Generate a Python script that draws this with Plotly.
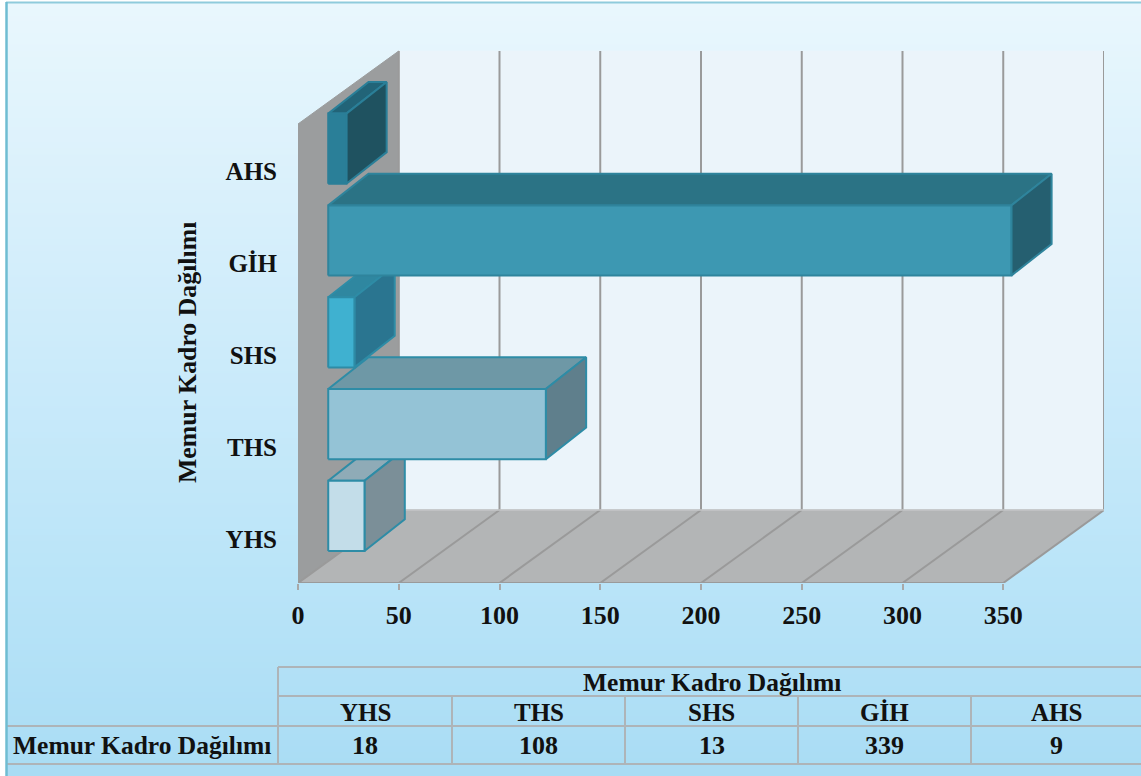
import plotly.graph_objects as go

W, H = 1141, 776

# --- data ---
categories = ["YHS", "THS", "SHS", "GİH", "AHS"]
values = [18, 108, 13, 339, 9]
value_ticks = [0, 50, 100, 150, 200, 250, 300, 350]
series_name = "Memur Kadro Dağılımı"

# --- face colours per bar ---
front_colors = ["#c3dde9", "#94c3d6", "#3fb1d0", "#3d98b2", "#2a7f98"]
top_colors = ["#8fabb7", "#6e98a6", "#2f87a0", "#2b7385", "#226478"]
side_colors = ["#7b8f98", "#5f7f8c", "#2a7590", "#255f70", "#1f5260"]
edge_colors = ["#2e8ca6", "#2e8ca6", "#2e8ca6", "#2f849c", "#2a7f98"]
grid_color = "#9a9a9a"
font_family = "Liberation Serif"
text_color = "#111111"

# --- oblique projection, expressed in axis units ---
DX, DY = 50, 0.795       # shift of the full chart depth on each axis
Y_TOP = 5.0              # height of the walls in category units
D0, D1 = 0.3, 0.7        # bar depth extent
B0, B1 = 0.11, 0.875     # bar extent within a category
BACK_LIFT = 0.027        # extra rise of the rear bar edges


def proj(v, c, d):
    return v + d * DX, c + d * DY


def rear(v, c):
    return proj(v, c + BACK_LIFT, D1)


def poly(points, fill, line=None, width=1):
    xs, ys = zip(*(points + [points[0]]))
    return go.Scatter(
        x=xs, y=ys, mode="lines", fill="toself", fillcolor=fill,
        line=dict(color=line or fill, width=width), xaxis="x2", yaxis="y2",
        showlegend=False, hoverinfo="skip",
    )


def seg(p, q, color=grid_color, width=2):
    return go.Scatter(
        x=[p[0], q[0]], y=[p[1], q[1]], mode="lines",
        line=dict(color=color, width=width), xaxis="x2", yaxis="y2",
        showlegend=False, hoverinfo="skip", cliponaxis=False,
    )


fig = go.Figure()

# page gradient
fig.add_trace(go.Heatmap(
    x=[0, 1], y=[0, 0.25, 0.5, 0.75, 1],
    z=[[0, 0], [0.25, 0.25], [0.5, 0.5], [0.75, 0.75], [1, 1]],
    zmin=0, zmax=1, zsmooth="best", showscale=False, hoverinfo="skip",
    colorscale=[[0, "#a9dcf4"], [0.25, "#b9e4f8"], [0.5, "#c9eafa"],
                [0.75, "#d9f0fb"], [1, "#e9f7fd"]],
    xaxis="x", yaxis="y",
))

vmax = value_ticks[-1]
# walls and floor
fig.add_trace(poly([proj(0, 0, 1), proj(vmax, 0, 1), proj(vmax, Y_TOP, 1), proj(0, Y_TOP, 1)], "#ebf4fa"))
fig.add_trace(poly([proj(0, 0, 0), proj(0, 0, 1), proj(0, Y_TOP, 1), proj(0, Y_TOP, 0)], "#9b9d9e"))
fig.add_trace(poly([proj(0, 0, 0), proj(vmax, 0, 0), proj(vmax, 0, 1), proj(0, 0, 1)], "#b3b5b6"))

# gridlines on back wall and floor
for v in value_ticks:
    fig.add_trace(seg(proj(v, 0, 0), proj(v, 0, 1), grid_color, 2))
    fig.add_trace(seg(proj(v, 0, 1), proj(v, Y_TOP, 1), grid_color, 2))
fig.add_trace(seg(proj(0, 0, 1), proj(vmax, 0, 1), "#c4c6c7", 1.5))
fig.add_trace(seg(proj(0, 0, 0), proj(vmax, 0, 0), grid_color, 2))

# category separators left of the wall
long_tick, short_tick = -64.5, -37.7
for k in range(len(categories) + 1):
    start = long_tick if k in (0, len(categories)) else short_tick
    fig.add_trace(seg((start, k), (0, k), "#a8a8a8", 1.5))

# bars
for i, v in enumerate(values):
    lo, hi = i + B0, i + B1
    edge = edge_colors[i]
    fig.add_trace(poly([proj(0, hi, D0), proj(v, hi, D0), rear(v, hi), rear(0, hi)],
                       top_colors[i], edge, 2))
    fig.add_trace(poly([proj(v, lo, D0), rear(v, lo), rear(v, hi), proj(v, hi, D0)],
                       side_colors[i], edge, 2))
    fig.add_trace(poly([proj(0, lo, D0), proj(v, lo, D0), proj(v, hi, D0), proj(0, hi, D0)],
                       front_colors[i], edge, 2))

# --- table drawn on the page ---
col_x = [278, 452, 625, 798, 971, 1141]
row_y = [667, 696, 726, 764]
left_x = 7


def px(x):
    return x / W


def py(y):
    return 1 - y / H


shapes = []


def hline(x0, x1, y, color="#aeb4b8", width=2):
    shapes.append(dict(type="line", xref="paper", yref="paper", x0=px(x0), x1=px(x1),
                       y0=py(y), y1=py(y), line=dict(color=color, width=width)))


def vline(x, y0, y1, color="#aeb4b8", width=2):
    shapes.append(dict(type="line", xref="paper", yref="paper", x0=px(x), x1=px(x),
                       y0=py(y0), y1=py(y1), line=dict(color=color, width=width)))


hline(col_x[0], W, row_y[0])
hline(col_x[0], W, row_y[1])
hline(left_x, W, row_y[2])
hline(left_x, W, row_y[3])
vline(col_x[0], row_y[0], row_y[3])
for x in col_x[1:-1]:
    vline(x, row_y[1], row_y[3])
# page frame
hline(6, W, 2.5, "#8fcbdc", 2)
vline(6.5, 2, H, "#6fbdd2", 2.5)

annotations = []


def text(x, y, s, size=24, anchor="center", angle=0):
    annotations.append(dict(xref="paper", yref="paper", x=px(x), y=py(y), text=f"<b>{s}</b>",
                            showarrow=False, xanchor=anchor, yanchor="middle", textangle=angle,
                            font=dict(family=font_family, size=size, color=text_color)))


centers = [(a + b) / 2 for a, b in zip(col_x[:-1], col_x[1:])]
text(712, 682, series_name, 25.5)
text(11, 745, series_name, 25.5, "left")
for c, name, val in zip(centers, categories, values):
    text(c, 712, name, 25)
    text(c, 745, str(val), 26)
text(188, 353, series_name, 25.8, angle=-90)

fig.update_layout(
    width=W, height=H, margin=dict(l=0, r=0, t=0, b=0, autoexpand=False),
    paper_bgcolor="#ffffff", plot_bgcolor="rgba(0,0,0,0)", showlegend=False,
    xaxis=dict(domain=[px(7), 1], range=[0, 1], visible=False, fixedrange=True),
    yaxis=dict(domain=[0, py(2)], range=[0, 1], visible=False, fixedrange=True),
    xaxis2=dict(
        domain=[px(298), px(1104)], range=[0, vmax + DX], anchor="y2",
        tickmode="array", tickvals=value_ticks,
        ticktext=[f"<b>{t}</b>" for t in value_ticks],
        ticks="outside", ticklen=6, tickcolor="#a8a8a8", tickwidth=1.5,
        ticklabelstandoff=3,
        showgrid=False, zeroline=False, showline=False,
        tickfont=dict(family=font_family, size=26, color=text_color),
    ),
    yaxis2=dict(
        domain=[py(583), py(48)], range=[0, Y_TOP + DY + 0.033], anchor="x2",
        tickmode="array", tickvals=[i + 0.48 for i in range(len(categories))],
        ticktext=[f"<b>{c}</b>" for c in categories], ticks="", ticklabelstandoff=20,
        showgrid=False, zeroline=False, showline=False,
        tickfont=dict(family=font_family, size=25, color=text_color),
    ),
    shapes=shapes, annotations=annotations,
)

fig.write_html(
    "out.html",
    config={"displayModeBar": False},
    post_script="document.documentElement.style.margin='0';document.body.style.margin='0';document.body.style.padding='0';",
)
